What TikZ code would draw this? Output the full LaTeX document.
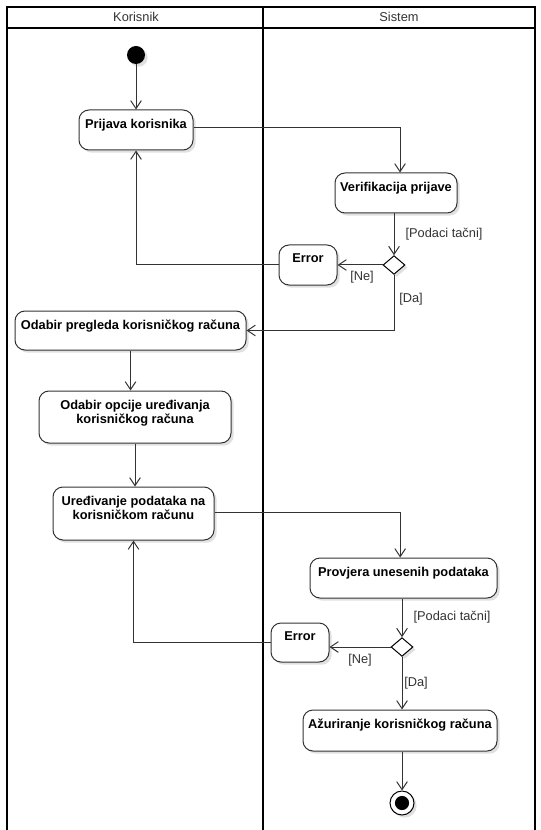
\documentclass[tikz,border=0pt]{standalone}
\usepackage{fontspec}
\setmainfont{Liberation Sans}
\usetikzlibrary{arrows.meta,shapes.geometric,fit,shadows,calc}
\definecolor{ink}{HTML}{333333}
\begin{document}
\begin{tikzpicture}[x=0.75pt,y=-0.75pt,
  font=\fontsize{9.6}{11}\selectfont,
  pool/.style={draw=black,line width=1.5pt},
  act/.style={draw=ink,line width=0.75pt,rounded corners=7.5pt,fill=white,inner sep=0pt,
    drop shadow={shadow xshift=2pt,shadow yshift=-2pt,fill=black,opacity=0.12}},
  acttext/.style={anchor=north,yshift=-3.5pt,font=\fontsize{9.6}{10.5}\selectfont\bfseries,align=center,text=black},
  choice/.style={diamond,draw=black,line width=0.75pt,fill=white,inner sep=0pt,
    minimum width=16.5pt,minimum height=14pt,
    drop shadow={shadow xshift=2pt,shadow yshift=-2pt,fill=black,opacity=0.12}},
  flow/.style={draw=ink,line width=0.75pt,-{Straight Barb[length=6pt,width=8pt]}},
  guard/.style={text=ink,inner sep=0pt},
  lane/.style={text=ink,inner sep=0pt}]
\useasboundingbox (0,0) rectangle (541,830);
\fill[white] (0,0) rectangle (541,830);

% swimlanes
\draw[pool] (7,830) -- (7,7) -- (535,7) -- (535,830);
\draw[pool] (7,28) -- (535,28);
\draw[pool] (263,7) -- (263,830);
\node[lane] (hk) at (136,17) {Korisnik};
\node[lane] (hs) at (399,17) {Sistem};

% start / end
\node[circle,fill=black,minimum size=13.5pt,inner sep=0pt,
  drop shadow={shadow xshift=2pt,shadow yshift=-2pt,fill=black,opacity=0.12}] (start) at (136,55) {};
\node[circle,draw=black,line width=0.75pt,fill=white,minimum size=18pt,inner sep=0pt,
  drop shadow={shadow xshift=2pt,shadow yshift=-2pt,fill=black,opacity=0.12}] (end) at (402,803) {};
\fill[black] (end.center) circle (5.3pt);

% actions
\node[act,fit={(79,110) (193,150)},label={[acttext]north:Prijava korisnika}] (prijava) {};
\node[act,fit={(335,173) (457,213)},label={[acttext]north:Verifikacija prijave}] (verif) {};
\node[act,fit={(279,245) (337,285)},label={[acttext]north:Error}] (err1) {};
\node[act,fit={(15,311) (246,350)},label={[acttext]north:Odabir pregleda korisničkog računa}] (pregled) {};
\node[act,fit={(39,391) (231,443)},label={[acttext]north:Odabir opcije uređivanja\\korisničkog računa}] (opcije) {};
\node[act,fit={(53,487) (214,540)},label={[acttext]north:Uređivanje podataka na\\korisničkom računu}] (ured) {};
\node[act,fit={(310,558) (497,598)},label={[acttext]north:Provjera unesenih podataka}] (provjera) {};
\node[act,fit={(271,623) (329,662)},label={[acttext]north:Error}] (err2) {};
\node[act,fit={(303,710) (497,751)},label={[acttext]north:Ažuriranje korisničkog računa}] (azur) {};

% decisions
\node[choice] (d1) at (394,265) {};
\node[choice] (d2) at (402,647) {};

% flows
\draw[flow] (start) -- (prijava.north -| start);
\draw[flow] ([yshift=1.5pt]prijava.east) -| ([xshift=3pt]verif.north);
\draw[flow] (verif.south -| d1) -- (d1.north);
\draw[flow] (d1.west) -- (d1.west -| err1.east);
\draw[flow] (err1.west) -| (prijava.south);
\draw[flow] (d1.south) |- (pregled.east);
\draw[flow] (pregled.south) -- (pregled.south |- opcije.north);
\draw[flow] (opcije.south) -- (opcije.south |- ured.north);
\draw[flow] ([yshift=1pt]ured.east) -| ([xshift=-2.5pt]provjera.north);
\draw[flow] (provjera.south -| d2) -- (d2.north);
\draw[flow] (d2.west) -- (d2.west -| err2.east);
\draw[flow] (err2.west) -| (ured.south);
\draw[flow] (d2.south) -- (d2.south |- azur.north);
\draw[flow] (azur.south -| end) -- (end.north);

% guards
\node[guard] (g1) at (444,234) {[Podaci tačni]};
\node[guard] (g2) at (362,277) {[Ne]};
\node[guard] (g3) at (411,299) {[Da]};
\node[guard] (g4) at (452,617) {[Podaci tačni]};
\node[guard] (g5) at (360,660) {[Ne]};
\node[guard] (g6) at (416,683) {[Da]};
\end{tikzpicture}
\end{document}
